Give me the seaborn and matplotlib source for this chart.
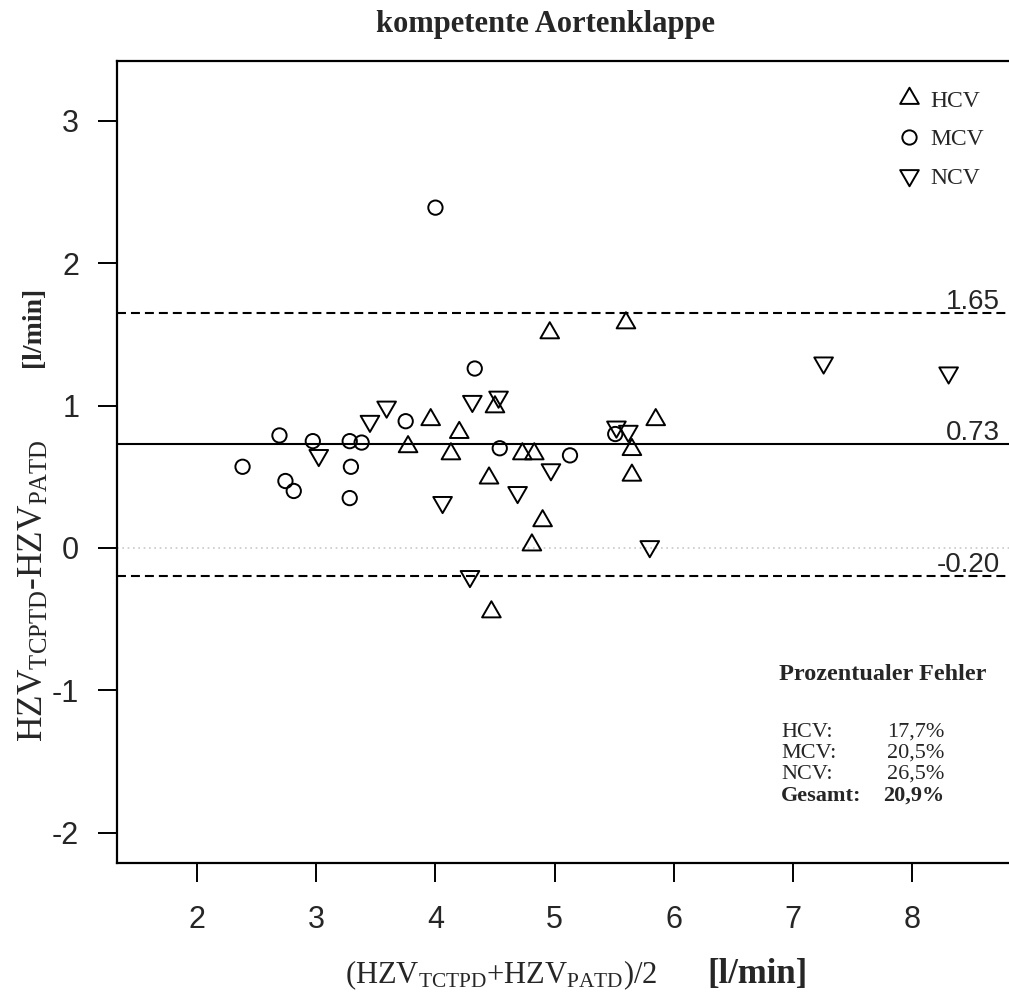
import numpy as np
import pandas as pd
import matplotlib
matplotlib.use("Agg")
import matplotlib.pyplot as plt
import matplotlib.transforms as mtransforms
from matplotlib.path import Path
from matplotlib.lines import Line2D
import seaborn as sns

# ---------------- data ----------------
title = "kompetente Aortenklappe"
groups = ["HCV", "MCV", "NCV"]

hcv_x = [3.77, 3.96, 4.13, 4.20, 4.45, 4.47, 4.50, 4.73, 4.81, 4.83, 4.90, 4.96, 5.60, 5.65, 5.65, 5.85]
hcv_y = [0.71, 0.90, 0.66, 0.81, 0.49, -0.45, 0.99, 0.66, 0.02, 0.66, 0.19, 1.51, 1.58, 0.69, 0.51, 0.90]

mcv_x = [2.38, 2.69, 2.74, 2.81, 2.97, 3.28, 3.28, 3.29, 3.38, 3.75, 4.00, 4.33, 4.54, 5.13, 5.51]
mcv_y = [0.57, 0.79, 0.47, 0.40, 0.75, 0.75, 0.35, 0.57, 0.74, 0.89, 2.39, 1.26, 0.70, 0.65, 0.80]

ncv_x = [3.02, 3.45, 3.59, 4.06, 4.29, 4.31, 4.53, 4.69, 4.97, 5.52, 5.62, 5.80, 7.26, 8.31]
ncv_y = [0.65, 0.89, 0.99, 0.32, -0.20, 1.03, 1.06, 0.39, 0.55, 0.85, 0.82, 0.01, 1.30, 1.23]

bias = 0.73
loa_upper = 1.65
loa_lower = -0.20

x_ticks = [2, 3, 4, 5, 6, 7, 8]
y_ticks = [-2, -1, 0, 1, 2, 3]

pf_title = "Prozentualer Fehler"
pf_labels = ["HCV:", "MCV:", "NCV:", "Gesamt:"]
pf_values = ["17,7%", "20,5%", "26,5%", "20,9%"]

xlabel_main = r"(HZV$_{\mathrm{TCTPD}}$+HZV$_{\mathrm{PATD}}$)/2"
ylabel_main = r"HZV$_{\mathrm{TCPTD}}$-HZV$_{\mathrm{PATD}}$"
unit_label = "[l/min]"

# ---------------- style ----------------
sns.set_style("ticks")
plt.rcParams["font.family"] = ["Liberation Sans", "DejaVu Sans"]
plt.rcParams["axes.unicode_minus"] = False
plt.rcParams["mathtext.fontset"] = "custom"
plt.rcParams["mathtext.rm"] = "Liberation Serif"
plt.rcParams["mathtext.it"] = "Liberation Serif:italic"
plt.rcParams["mathtext.bf"] = "Liberation Serif:bold"

W, H = 1009, 994
fig = plt.figure(figsize=(W / 100, H / 100), dpi=100)
left_px, right_px, top_px, bottom_px = 116.7, 1009.0, 61.0, 863.0
ax = fig.add_axes([left_px / W, 1 - bottom_px / H, (right_px - left_px) / W, (bottom_px - top_px) / H])

def fx(px):
    return px / W

def fy(py):
    return 1 - py / H

tri_up = Path([(0, 1), (-0.866, -0.5), (0.866, -0.5), (0, 1)],
              [Path.MOVETO, Path.LINETO, Path.LINETO, Path.CLOSEPOLY])
tri_down = Path([(0, -1), (-0.866, 0.5), (0.866, 0.5), (0, -1)],
                [Path.MOVETO, Path.LINETO, Path.LINETO, Path.CLOSEPOLY])
markers = {"HCV": tri_up, "MCV": "o", "NCV": tri_down}
msizes = {"HCV": 15.5, "MCV": 10.3, "NCV": 15.5}

df = pd.concat([
    pd.DataFrame({"x": hcv_x, "y": hcv_y, "group": "HCV"}),
    pd.DataFrame({"x": mcv_x, "y": mcv_y, "group": "MCV"}),
    pd.DataFrame({"x": ncv_x, "y": ncv_y, "group": "NCV"}),
], ignore_index=True)

# reference lines
ax.axhline(0, color="#c8c8c8", lw=1.2, ls=(0, (1, 2.2)), zorder=0)
ax.axhline(bias, color="black", lw=1.5, zorder=1)
for v in (loa_upper, loa_lower):
    ax.axhline(v, color="black", lw=1.5, ls=(0, (4.3, 2.4)), zorder=1)

for g in groups:
    sub = df[df["group"] == g]
    sns.scatterplot(data=sub, x="x", y="y", marker=markers[g], s=msizes[g] ** 2,
                    facecolor="none", edgecolor="black", linewidth=1.4,
                    legend=False, ax=ax, zorder=3)

ax.set_xlim(1.323, 8.817)
ax.set_ylim(-2.213, 3.42)
ax.set_xticks(x_ticks)
ax.set_yticks(y_ticks)
ax.set_xlabel("")
ax.set_ylabel("")
ax.tick_params(axis="both", direction="out", length=14, width=1.4, labelsize=22, color="black")
ax.tick_params(axis="x", pad=16.5)
ax.tick_params(axis="y", pad=13)
for s in ("top", "left", "bottom"):
    ax.spines[s].set_visible(True)
    ax.spines[s].set_linewidth(1.6)
    ax.spines[s].set_color("black")
ax.spines["right"].set_visible(False)

# line value labels
blend = mtransforms.blended_transform_factory(ax.transAxes, ax.transData)
for v in (loa_upper, bias, loa_lower):
    ax.text((1000 - left_px) / (right_px - left_px), v + 0.03, f"{v:.2f}", transform=blend,
            ha="right", va="baseline", fontsize=20, family=["Liberation Sans", "DejaVu Sans"])

# legend
handles = [Line2D([], [], marker=markers[g], markersize=msizes[g], linestyle="none",
                  markerfacecolor="none", markeredgecolor="black", markeredgewidth=1.4)
           for g in groups]
ax.legend(handles, groups, loc="upper left", bbox_to_anchor=(fx(897), fy(90)),
          bbox_transform=fig.transFigure, frameon=False, borderpad=0, borderaxespad=0,
          handlelength=1.0, handletextpad=0.4, labelspacing=0.72,
          prop={"family": "Liberation Serif", "size": 17})

# percentage error block
fig.text(fx(779), fy(680), pf_title, ha="left", va="baseline", fontsize=17.5,
         weight="bold", family="Liberation Serif")
row_y = [737, 758, 779, 801]
for lab, val, yy in zip(pf_labels, pf_values, row_y):
    w = "bold" if lab.startswith("Gesamt") else "normal"
    fig.text(fx(781), fy(yy), lab, ha="left", va="baseline", fontsize=16, weight=w,
             family="Liberation Serif")
    fig.text(fx(944), fy(yy), val, ha="right", va="baseline", fontsize=16, weight=w,
             family="Liberation Serif")

# title and axis labels
fig.text(fx(546), fy(31.7), title, ha="center", va="baseline", fontsize=22,
         weight="bold", family="Liberation Serif")
fig.text(fx(345), fy(983), xlabel_main, ha="left", va="baseline", fontsize=22,
         family="Liberation Serif")
fig.text(fx(707), fy(983), unit_label, ha="left", va="baseline", fontsize=25,
         weight="bold", family="Liberation Serif")
fig.text(fx(43), fy(742), ylabel_main, rotation=90, rotation_mode="anchor",
         ha="left", va="baseline", fontsize=25.5, family="Liberation Serif")
fig.text(fx(40), fy(367), unit_label, rotation=90, rotation_mode="anchor",
         ha="left", va="baseline", fontsize=20, weight="bold", family="Liberation Serif")

fig.savefig("out.png", dpi=100)
